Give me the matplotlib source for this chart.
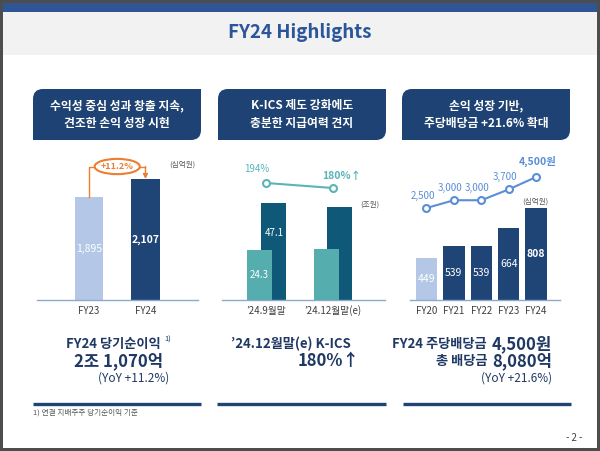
import matplotlib
matplotlib.use("Agg")
import matplotlib.pyplot as plt
from matplotlib.path import Path
from matplotlib.patches import PathPatch, Rectangle, Ellipse

plt.rcParams['font.family'] = ['Noto Sans CJK KR', 'DejaVu Sans']

# ---------------- data ----------------
profit_cats = ['FY23', 'FY24']
profit_vals = [1895, 2107]

kics_cats = ['’24.9월말', '’24.12월말(e)']
kics_avail = [47.1, 45.0]
kics_req = [24.3, 24.5]
kics_avail_labels = ['47.1', '']
kics_req_labels = ['24.3', '']
kics_ratio = [194, 180]
kics_ratio_labels = ['194%', '180%↑']

div_cats = ['FY20', 'FY21', 'FY22', 'FY23', 'FY24']
div_total = [449, 539, 539, 664, 808]
div_dps = [2500, 3000, 3000, 3700, 4500]
div_dps_labels = ['2,500', '3,000', '3,000', '3,700', '4,500원']

# ---------------- style ----------------
W, H = 600, 451
NAVY = '#1f4476'
BOX = '#1e4273'
LIGHT = '#b4c7e7'
TEAL = '#55adae'
DTEAL = '#0f5877'
TEAL_LINE = '#5ab4b8'
BLUE_LINE = '#5a8ed6'
ORANGE = '#ed7d31'
TXT = '#1f3864'
GRAY = '#595959'

fig = plt.figure(figsize=(6, 4.51), dpi=100)
fig.patch.set_facecolor('#4d4d4d')

ov = fig.add_axes([0, 0, 1, 1])
ov.set_xlim(0, W)
ov.set_ylim(H, 0)
ov.axis('off')
ov.set_zorder(0)

# slide background
ov.add_patch(Rectangle((3, 3), 594, 445, color='white', lw=0))
ov.add_patch(Rectangle((3, 3), 594, 9, color='#2f5597', lw=0))
ov.add_patch(Rectangle((3, 12), 594, 43, color='#f2f2f2', lw=0))
ov.text(300, 33, 'FY24 Highlights', ha='center', va='center', fontsize=13.5,
        fontweight='bold', color='#2b569a')


def leaf_box(x0, y0, x1, y1, r, color):
    verts = [(x0, y0 + r), (x0, y0), (x0 + r, y0), (x1, y0), (x1, y1 - r),
             (x1, y1), (x1 - r, y1), (x0, y1), (x0, y0 + r)]
    codes = [Path.MOVETO, Path.CURVE3, Path.CURVE3, Path.LINETO, Path.LINETO,
             Path.CURVE3, Path.CURVE3, Path.LINETO, Path.CLOSEPOLY]
    ov.add_patch(PathPatch(Path(verts, codes), facecolor=color, edgecolor='none'))


boxes = [(33, 201, ['수익성 중심 성과 창출 지속,', '견조한 손익 성장 시현']),
         (218, 386, ['K-ICS 제도 강화에도', '충분한 지급여력 견지']),
         (402, 570, ['손익 성장 기반,', '주당배당금 +21.6% 확대'])]
for x0, x1, lines in boxes:
    leaf_box(x0, 89, x1, 140, 10, BOX)
    cx = (x0 + x1) / 2
    ov.text(cx, 106, lines[0], ha='center', va='center', fontsize=8.5,
            fontweight='bold', color='white')
    ov.text(cx, 123, lines[1], ha='center', va='center', fontsize=8.5,
            fontweight='bold', color='white')

# bottom rules
for x0, x1 in [(33, 201), (217, 386), (403, 571)]:
    ov.plot([x0, x1], [404, 404], color=NAVY, lw=2.4, solid_capstyle='butt')

ov.text(33, 413, '1) 연결 지배주주 당기순이익 기준', ha='left', va='center',
        fontsize=5.5, color=GRAY)
ov.text(574, 438, '- 2 -', ha='center', va='center', fontsize=7, color='#404040')

# unit labels
ov.text(182, 165, '(십억원)', ha='center', va='center', fontsize=5.5, color=GRAY)
ov.text(370, 205, '(조원)', ha='center', va='center', fontsize=5.5, color=GRAY)
ov.text(535, 202, '(십억원)', ha='center', va='center', fontsize=5.5, color=GRAY)


def px_axes(x0, x1, ytop, ybot):
    ax = fig.add_axes([x0 / W, 1 - ybot / H, (x1 - x0) / W, (ybot - ytop) / H])
    ax.set_facecolor('none')
    ax.set_zorder(2)
    for s in ['top', 'left', 'right']:
        ax.spines[s].set_visible(False)
    ax.spines['bottom'].set_color('#8ea9cf')
    ax.spines['bottom'].set_linewidth(1)
    ax.set_yticks([])
    ax.tick_params(axis='x', length=0, labelsize=7, labelcolor='#404040', pad=4)
    return ax


def clean_twin(ax):
    t = ax.twinx()
    for s in t.spines.values():
        s.set_visible(False)
    t.set_yticks([])
    t.set_facecolor('none')
    return t


# ---------------- chart 1 ----------------
ax1 = px_axes(37, 198, 140, 300)
x1 = list(range(len(profit_cats)))
ax1.set_xlim(-0.92, 1.93)
ax1.set_ylim(683, 2566)
ax1.bar(x1, profit_vals, width=0.5, color=[LIGHT, NAVY], zorder=2)
ax1.set_xticks(x1)
ax1.set_xticklabels(profit_cats)
y0 = ax1.get_ylim()[0]
for i, v in enumerate(profit_vals):
    ax1.text(i, (y0 + v) / 2, f'{v:,}', ha='center', va='center', fontsize=7.5,
             color='white', fontweight='bold' if i == 1 else 'normal', zorder=3)
lvl = 2254
growth = (profit_vals[1] / profit_vals[0] - 1) * 100
ax1.plot([0, 0, 0.1], [profit_vals[0], lvl, lvl], color=ORANGE, lw=1, clip_on=False)
ax1.plot([0.9, 1], [lvl, lvl], color=ORANGE, lw=1, clip_on=False)
ax1.annotate('', xy=(1, profit_vals[1]), xytext=(1, lvl),
             arrowprops=dict(arrowstyle='-|>', color=ORANGE, lw=1, shrinkA=0,
                             shrinkB=0, mutation_scale=7))
ax1.add_patch(Ellipse((0.5, lvl), 0.8, 180, facecolor='white', edgecolor=ORANGE,
                      lw=1.5, zorder=4, clip_on=False))
ax1.text(0.5, lvl, f'+{growth:.1f}%', ha='center', va='center', fontsize=6.5,
         fontweight='bold', color=ORANGE, zorder=5)

# ---------------- chart 2 ----------------
ax2 = px_axes(222, 385, 150, 300)
x2 = list(range(len(kics_cats)))
ax2.set_xlim(-0.669, 1.782)
ax2.set_ylim(0, 72.5)
off, bw = 0.105, 0.376
ax2.bar([x + off for x in x2], kics_avail, width=bw, color=DTEAL, zorder=2)
ax2.bar([x - off for x in x2], kics_req, width=bw, color=TEAL, zorder=3)
ax2.set_xticks(x2)
ax2.set_xticklabels(kics_cats)
for i in x2:
    ax2.text(i + off + 0.02, kics_req[i] + 0.36 * (kics_avail[i] - kics_req[i]),
             kics_avail_labels[i], ha='center', va='center', fontsize=7,
             color='white', zorder=4)
    ax2.text(i - off, kics_req[i] / 2, kics_req_labels[i], ha='center',
             va='center', fontsize=7, color='white', zorder=4)
ax2b = clean_twin(ax2)
ax2b.set_ylim(-133.7, 286.5)
ax2b.plot(x2, kics_ratio, color=TEAL_LINE, lw=1.5, marker='o', ms=5,
          mfc='white', mec=TEAL_LINE, mew=1.5, zorder=3)
lab_off = [(-10, 14), (9, 12)]
for i in x2:
    ax2b.annotate(kics_ratio_labels[i], (x2[i], kics_ratio[i]), xytext=lab_off[i],
                  textcoords='offset pixels', ha='center', va='center',
                  fontsize=7 if i == 0 else 7.5, color=TEAL_LINE,
                  fontweight='normal' if i == 0 else 'bold')

# ---------------- chart 3 ----------------
ax3 = px_axes(410, 560, 150, 300)
x3 = list(range(len(div_cats)))
ax3.set_xlim(-0.602, 4.872)
ax3.set_ylim(150, 1226)
ax3.bar(x3, div_total, width=0.785, color=[LIGHT] + [NAVY] * 4, zorder=2)
ax3.set_xticks(x3)
ax3.set_xticklabels(div_cats)
y0 = ax3.get_ylim()[0]
for i, v in enumerate(div_total):
    ax3.text(i, (y0 + v) / 2, f'{v:,}', ha='center', va='center', fontsize=7.5,
             color='white', fontweight='bold' if i == 4 else 'normal', zorder=3)
ax3b = clean_twin(ax3)
ax3b.set_ylim(-3435, 6242)
ax3b.plot(x3, div_dps, color=BLUE_LINE, lw=1.5, marker='o', ms=5, mfc='white',
          mec=BLUE_LINE, mew=1.5, zorder=3)
for i, v in enumerate(div_dps):
    last = i == len(div_dps) - 1
    ax3b.annotate(div_dps_labels[i], (i, v), xytext=(2, 16) if last else (-4, 12),
                  textcoords='offset pixels', ha='center', va='center',
                  fontsize=7.5 if last else 7, color=BLUE_LINE,
                  fontweight='bold' if last else 'normal')

# ---------------- bottom summary texts ----------------
fig.canvas.draw()
rend = fig.canvas.get_renderer()


def left_of(t):
    return t.get_window_extent(renderer=rend).x0


ov.text(161, 344, 'FY24 당기순이익', ha='right', va='center', fontsize=9.5,
        fontweight='bold', color=TXT)
ov.text(164, 340, '1)', ha='left', va='center', fontsize=5.5, color=TXT)
ov.text(163, 361, '2조 1,070억', ha='right', va='center', fontsize=12,
        fontweight='bold', color=TXT)
ov.text(169, 378, '(YoY +11.2%)', ha='right', va='center', fontsize=8.5, color=TXT)

ov.text(351, 344, '’24.12월말(e) K-ICS', ha='right', va='center', fontsize=9.5,
        fontweight='bold', color=TXT)
ov.text(360, 361, '180%↑', ha='right', va='center', fontsize=12,
        fontweight='bold', color=TXT)

t = ov.text(552, 344, '4,500원', ha='right', va='center', fontsize=12,
            fontweight='bold', color=TXT)
ov.text(left_of(t) - 5, 344, 'FY24 주당배당금', ha='right', va='center',
        fontsize=9.5, fontweight='bold', color=TXT)
t = ov.text(552, 361, '8,080억', ha='right', va='center', fontsize=12,
            fontweight='bold', color=TXT)
ov.text(left_of(t) - 5, 361, '총 배당금', ha='right', va='center', fontsize=9.5,
        fontweight='bold', color=TXT)
ov.text(552, 378, '(YoY +21.6%)', ha='right', va='center', fontsize=8.5, color=TXT)

fig.savefig('out.png', dpi=100, facecolor=fig.get_facecolor())
